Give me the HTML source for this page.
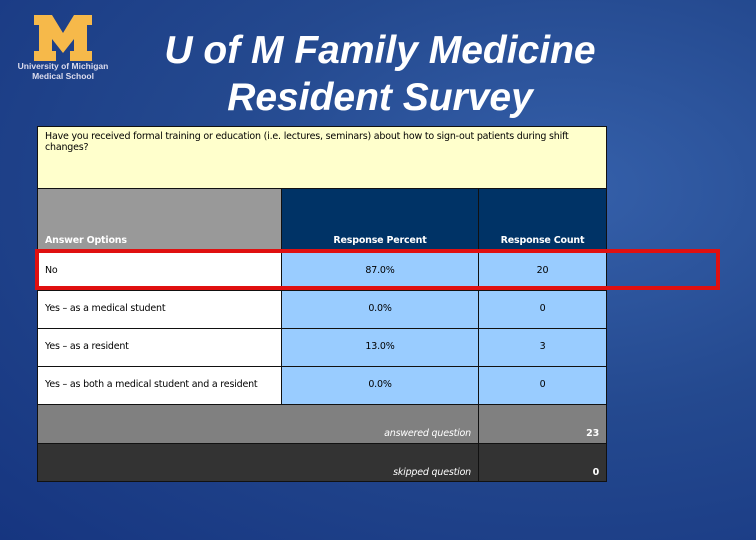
<!DOCTYPE html>
<html><head><meta charset="utf-8"><style>
body{margin:0;width:756px;height:540px;overflow:hidden;font-family:"Liberation Sans",sans-serif;}
#bg{position:absolute;left:0;top:0;width:756px;height:540px;background:radial-gradient(ellipse at 75% 35%,#3560aa 0%,#24498f 45%,#163580 100%);}
.c{position:absolute;box-sizing:border-box;border:1px solid #111;font-size:9.5px;font-family:"DejaVu Sans",sans-serif;letter-spacing:-0.2px;}
.t{position:absolute;}
</style></head><body>
<div id="bg"></div>
<div class="t" style="left:34px;top:15px;width:58px;height:46px;">
<svg width="58" height="46" viewBox="0 0 58 46"><polygon points="0,0 18,0 29,18 40,0 58,0 58,10 53,10 53,36 58,36 58,46 36,46 36,36 40,36 40,24 29,38 18,24 18,36 22,36 22,46 0,46 0,36 5,36 5,10 0,10" fill="#f6b94a"/></svg></div>
<div class="t" style="left:10px;top:61px;width:106px;text-align:center;color:#dde;font-size:8.5px;font-weight:bold;line-height:10px;">University of Michigan<br>Medical School</div>
<div class="t" style="left:100px;top:27px;width:560px;text-align:center;color:#fff;font-size:39px;font-weight:bold;font-style:italic;line-height:47px;">U of M Family Medicine<br>Resident Survey</div>

<div class="c" style="left:37px;top:126px;width:570px;height:63px;background:#ffffcc;padding:4px 7px;line-height:11px;">Have you received formal training or education (i.e. lectures, seminars) about how to sign-out patients during shift changes?</div>

<div class="c" style="left:37px;top:188px;width:245px;height:65px;background:#999;color:#fff;font-weight:bold;padding:46px 0 0 7px;">Answer Options</div>
<div class="c" style="left:281px;top:188px;width:198px;height:65px;background:#003366;color:#fff;font-weight:bold;padding-top:46px;text-align:center;">Response Percent</div>
<div class="c" style="left:478px;top:188px;width:129px;height:65px;background:#003366;color:#fff;font-weight:bold;padding-top:46px;text-align:center;">Response Count</div>

<div id="rows"></div>

<div class="c" style="left:37px;top:404px;width:442px;height:40px;background:#808080;color:#fff;font-style:italic;text-align:right;padding:23px 7px 0 0;">answered question</div>
<div class="c" style="left:478px;top:404px;width:129px;height:40px;background:#808080;color:#fff;font-weight:bold;text-align:right;padding:23px 7px 0 0;">23</div>
<div class="c" style="left:37px;top:443px;width:442px;height:39px;background:#333;color:#fff;font-style:italic;text-align:right;padding:23px 7px 0 0;">skipped question</div>
<div class="c" style="left:478px;top:443px;width:129px;height:39px;background:#333;color:#fff;font-weight:bold;text-align:right;padding:23px 7px 0 0;">0</div>

<div class="t" style="left:35px;top:249px;width:685px;height:41px;box-sizing:border-box;border:4px solid #e01010;"></div>

<script>
const options=["No","Yes – as a medical student","Yes – as a resident","Yes – as both a medical student and a resident"];
const percents=["87.0%","0.0%","13.0%","0.0%"];
const counts=[20,0,3,0];
const rows=document.getElementById('rows');
options.forEach((o,i)=>{
  const top=252+i*38;
  const mk=(l,w,bg,txt,align,pad,name)=>{
    const d=document.createElement('div');
    d.className='c';
    
    
    d.style.cssText=`left:${l}px;top:${top}px;width:${w}px;height:39px;background:${bg};text-align:${align};padding:${pad};line-height:11px;`;
    d.textContent=txt;rows.appendChild(d);
  };
  mk(37,245,'#fff',o,'left','12px 0 0 7px','answer-option-'+i);
  mk(281,198,'#99ccff',percents[i],'center','12px 0 0 0','response-percent-'+i);
  mk(478,129,'#99ccff',String(counts[i]),'center','12px 0 0 0','response-count-'+i);
});
</script>
</body></html>
